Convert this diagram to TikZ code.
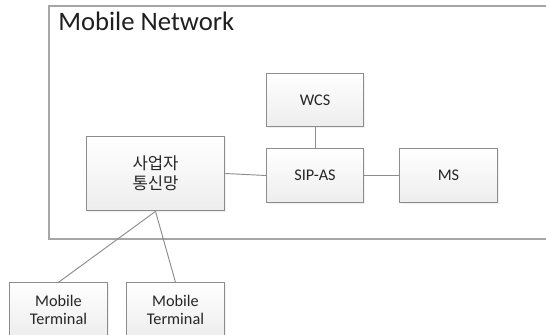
\documentclass[tikz,border=0pt]{standalone}
\usepackage{fontspec}
\setmainfont{Carlito}
\newfontfamily\krfont{Noto Sans CJK KR}
\usepackage{tikz}
\usetikzlibrary{shadows}

\definecolor{boxline}{HTML}{8C8C8C}
\definecolor{frameline}{HTML}{A6A6A6}
\definecolor{boxtext}{HTML}{262626}

\begin{document}
\begin{tikzpicture}[
    x=0.75pt, y=-0.75pt,
    unit/.style={rectangle, draw=boxline, line width=0.8pt, top color=white, bottom color=gray!14, minimum width=73pt, minimum height=40pt, align=center, inner sep=2pt, font=\fontsize{12.2}{13.5}\selectfont, text=boxtext, drop shadow={opacity=0.12, shadow xshift=1pt, shadow yshift=-1pt}},
    link/.style={draw=boxline, line width=0.7pt},
]

\clip (0,0) rectangle (546,335);

% Frame
\draw[frameline, line width=1.2pt] (49,6) rectangle (552,239);
\node[anchor=base west, inner sep=0pt, font=\fontsize{20}{23}\selectfont, text=black!88] (title) at (58,31) {Mobile Network};

% Nodes
\node[unit] (wcs) at (315,100) {WCS};
\node[unit] (sipas) at (315,175.5) {SIP-AS};
\node[unit] (ms) at (448.5,175.5) {MS};
\node[unit, minimum width=104pt, minimum height=56pt, font=\krfont\fontsize{12.5}{15}\selectfont] (carrier) at (155.5,173.5) {사업자\\통신망};

% Terminals
\node[unit] (term1) at (58.5,309.5) {Mobile\\Terminal};
\node[unit] (term2) at (175.5,309.5) {Mobile\\Terminal};

% Links
\draw[link] (wcs) -- (sipas);
\draw[link] (sipas) -- (ms);
\draw[link] (carrier.east) -- (sipas.west);
\draw[link] (carrier.south) -- (term1.north);
\draw[link] (carrier.south) -- (term2.north);

\end{tikzpicture}
\end{document}
